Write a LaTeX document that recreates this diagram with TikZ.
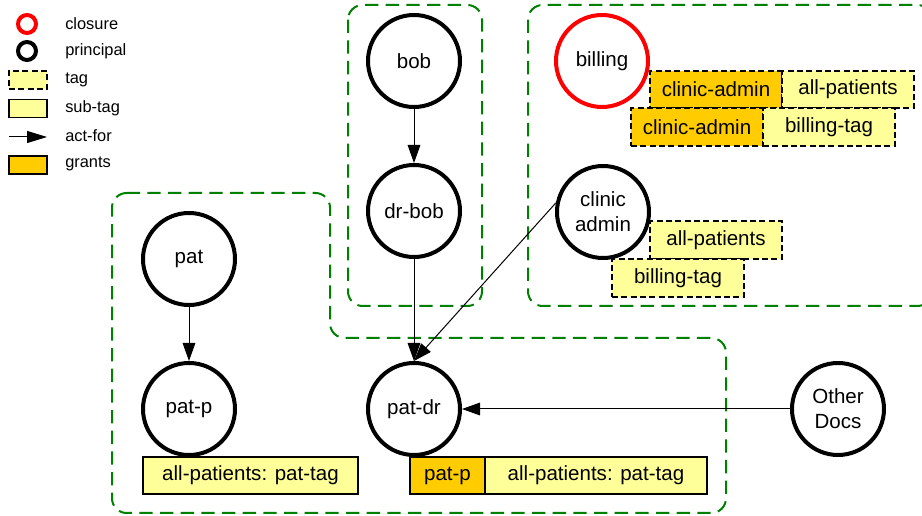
\documentclass[tikz,border=0pt]{standalone}
\usepackage{fontspec}
\setmainfont{Liberation Sans}
\usetikzlibrary{arrows.meta}
\definecolor{tagyellow}{HTML}{FFFF99}
\definecolor{grantorange}{HTML}{FFCC00}
\definecolor{regiongreen}{HTML}{008000}
\begin{document}
\begin{tikzpicture}[x=0.75pt,y=-0.75pt,
  principal/.style={circle,draw=black,line width=3pt,fill=white,minimum size=69pt,inner sep=0pt,font=\fontsize{15.4}{18.8}\selectfont,align=center},
  closure/.style={principal,draw=red},
  region/.style={draw=regiongreen,line width=1.5pt,dash pattern=on 10pt off 5.5pt,rounded corners=11pt},
  boxbase/.style={draw=black,inner sep=0pt,font=\fontsize{15.4}{18.8}\selectfont},
  tagbox/.style={boxbase,line width=1.1pt,dash pattern=on 4.5pt off 2.5pt,fill=tagyellow},
  granttag/.style={boxbase,line width=1.1pt,dash pattern=on 4.5pt off 2.5pt,fill=grantorange},
  subtag/.style={boxbase,line width=0.9pt,fill=tagyellow},
  grantsub/.style={boxbase,line width=0.9pt,fill=grantorange},
  actfor/.style={line width=0.75pt,-{Triangle[length=13.5pt,width=9.5pt]}},
  legtext/.style={anchor=west,inner sep=0pt,font=\fontsize{12.3}{14}\selectfont},
]
\useasboundingbox (0,0) rectangle (922,516);

% regions
\draw[region] (348,5) rectangle (482,306);
\draw[region] (528,5) rectangle (932,306);
\draw[region] (112,193) -- (330,193) -- (330,338) -- (726,338) -- (726,513) -- (112,513) -- cycle;

% principals
\node[principal] (bob) at (414,61) {bob};
\node[principal] (drbob) at (414,211) {dr-bob};
\node[principal] (pat) at (189,259) {pat};
\node[principal] (patp) at (189,409) {pat-p};
\node[principal] (patdr) at (414,409) {pat-dr};
\node[closure] (billing) at (602,61) {billing};
\node[principal] (clinic) at (603,212) {clinic\\admin};
\node[principal] (other) at (838,409) {Other\\Docs};

% act-for
\draw[actfor] (bob) -- (drbob);
\draw[actfor] (drbob) -- (patdr);
\draw[actfor] (pat) -- (patp);
\draw[actfor] (clinic.169) -- (patdr.north);
\draw[actfor] (other) -- (patdr);

% tags at billing
\node[granttag,minimum width=99pt,minimum height=27.75pt] (b1g) at (716,89.5) {clinic-admin};
\node[tagbox,minimum width=99pt,minimum height=27.75pt] (b1t) at (848,89.5) {all-patients};
\node[granttag,minimum width=99pt,minimum height=28.5pt] (b2g) at (697,127) {clinic-admin};
\node[tagbox,minimum width=99pt,minimum height=28.5pt] (b2t) at (829,127) {billing-tag};

% tags at clinic admin
\node[tagbox,minimum width=99pt,minimum height=28.5pt] (c1t) at (716,240) {all-patients};
\node[tagbox,minimum width=99pt,minimum height=28.5pt] (c2t) at (678,278) {billing-tag};

% sub-tags
\node[subtag,minimum width=161.25pt,minimum height=27.75pt] (ps) at (250.5,475.5) {all-patients: pat-tag};
\node[grantsub,minimum width=56.25pt,minimum height=27.75pt] (dg) at (447.5,475.5) {pat-p};
\node[subtag,minimum width=166.5pt,minimum height=27.75pt] (ds) at (596,475.5) {all-patients: pat-tag};

% legend
\node[circle,draw=red,line width=3pt,minimum size=13.5pt,inner sep=0pt] (lc) at (27,24) {};
\node[circle,draw=black,line width=3pt,minimum size=13.5pt,inner sep=0pt] (lp) at (27,51) {};
\node[tagbox,minimum width=28.5pt,minimum height=13.5pt] (lt) at (28,80) {};
\node[subtag,minimum width=28.5pt,minimum height=14pt] (ls) at (28,108.5) {};
\coordinate (la1) at (9,137);
\coordinate (la2) at (47,137);
\draw[line width=0.75pt,-{Triangle[length=15pt,width=9pt]}] (la1) -- (la2);
\node[grantsub,minimum width=28.5pt,minimum height=13.5pt] (lg) at (28,165) {};
\node[legtext] (tc) at (65,24) {closure};
\node[legtext] (tp) at (65,51) {principal};
\node[legtext] (tt) at (65,80) {tag};
\node[legtext] (ts) at (65,108) {sub-tag};
\node[legtext] (ta) at (65,136) {act-for};
\node[legtext] (tg) at (65,164) {grants};
\end{tikzpicture}
\end{document}
